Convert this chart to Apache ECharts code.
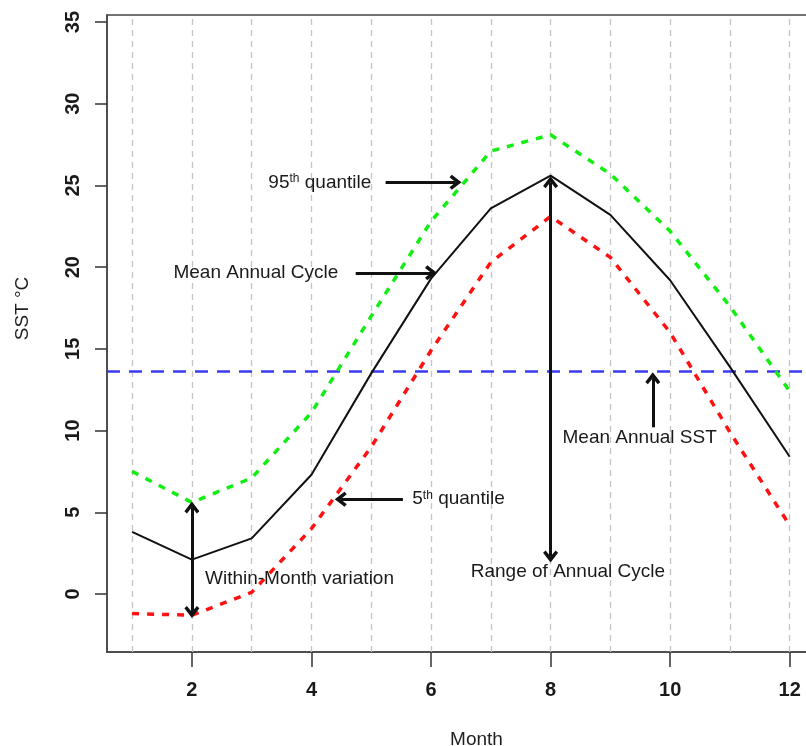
<!DOCTYPE html>
<html>
<head>
    <meta charset="utf-8">
    <title>SST annual cycle</title>
    <script src="https://cdn.jsdelivr.net/npm/echarts@6/dist/echarts.min.js"></script>
    <style type="text/css">
        html, body { margin: 0; padding: 0; background: #ffffff; }
        #chart { width: 806px; height: 746px; }
    </style>
</head>
<body>
<div id="chart"></div>
<script>
    // 数据
    var months = [1, 2, 3, 4, 5, 6, 7, 8, 9, 10, 11, 12];
    var meanCycle = [3.8, 2.1, 3.4, 7.3, 13.5, 19.3, 23.6, 25.6, 23.2, 19.2, 13.9, 8.4];
    var q95 = [7.5, 5.6, 7.1, 11.1, 17.0, 22.8, 27.1, 28.1, 25.7, 22.2, 17.6, 12.4];
    var q05 = [-1.2, -1.3, 0.1, 4.0, 9.0, 14.9, 20.3, 23.1, 20.6, 16.0, 9.9, 4.2];
    var meanAnnualSST = 13.65;
    var xTicks = [2, 4, 6, 8, 10, 12];
    var yTicks = [0, 5, 10, 15, 20, 25, 30, 35];

    // 注释（数据坐标）
    var notes = [
        {text: '95{sup|th} quantile', at: [4.14, 25.15]},
        {text: 'Mean Annual Cycle', at: [3.07, 19.65]},
        {text: '5{sup|th} quantile', at: [6.46, 5.8]},
        {text: 'Within-Month variation', at: [3.8, 0.95]},
        {text: 'Range of Annual Cycle', at: [8.29, 1.35]},
        {text: 'Mean Annual SST', at: [9.49, 9.55]}
    ];
    // [from, to, 双向]
    var arrows = [
        [[5.24, 25.2], [6.41, 25.2], false],
        [[4.74, 19.65], [6.0, 19.65], false],
        [[5.53, 5.8], [4.49, 5.8], false],
        [[2, -1.1], [2, 5.3], true],
        [[8, 2.3], [8, 25.2], true],
        [[9.71, 10.2], [9.71, 13.2], false]
    ];

    var font = '"Liberation Sans", Arial, Helvetica, sans-serif';
    var head = 'path://M5,0 L10,7 L8.3,8.6 L5,4.2 L1.7,8.6 L0,7 Z';

    function toXY(vals) {
        return months.map(function (m, i) { return [m, vals[i]]; });
    }

    var chart = echarts.init(document.getElementById('chart'), null, {renderer: 'canvas'});

    var option = {
        animation: false,
        backgroundColor: '#ffffff',
        textStyle: {fontFamily: font},
        grid: {
            left: 107, right: -10, top: 15, bottom: 94,
            show: true, borderColor: '#444', borderWidth: 1.5,
            containLabel: false,
            outerBoundsMode: 'none'
        },
        xAxis: {
            type: 'value',
            min: 0.58, max: 12.44,
            name: 'Month',
            nameLocation: 'middle',
            nameGap: 78,
            nameTextStyle: {fontSize: 19, color: '#222', fontFamily: font, padding: [0, 0, 0, 30]},
            axisLine: {show: true, onZero: false, lineStyle: {color: '#444', width: 1.5}},
            axisTick: {show: true, length: 15, customValues: xTicks, lineStyle: {color: '#333', width: 1.5}},
            axisLabel: {
                customValues: xTicks, margin: 28, fontSize: 20, fontWeight: 'bold',
                color: '#1a1a1a', fontFamily: font
            },
            splitLine: {show: false}
        },
        yAxis: {
            type: 'value',
            min: -3.55, max: 35.43,
            name: 'SST °C',
            nameLocation: 'middle',
            nameGap: 75,
            nameRotate: 90,
            nameTextStyle: {fontSize: 19, color: '#222', fontFamily: font, padding: [0, 0, 0, 50]},
            axisLine: {show: true, lineStyle: {color: '#444', width: 1.5}},
            axisTick: {show: true, length: 12, customValues: yTicks, lineStyle: {color: '#333', width: 1.5}},
            axisLabel: {
                customValues: yTicks, rotate: 90, margin: 24, fontSize: 20, fontWeight: 'bold',
                color: '#1a1a1a', fontFamily: font
            },
            splitLine: {show: false}
        },
        series: [
            {
                name: 'grid',
                type: 'line',
                data: [],
                z: 1,
                markLine: {
                    silent: true, symbol: 'none', z: 1,
                    label: {show: false},
                    lineStyle: {color: '#c4c4c4', type: [6, 5], width: 1.3},
                    data: months.map(function (m) { return {xAxis: m}; })
                }
            },
            {
                name: 'Mean Annual SST',
                type: 'line',
                data: [],
                z: 2,
                markLine: {
                    silent: true, symbol: 'none', z: 2,
                    label: {show: false},
                    lineStyle: {color: '#3a3af0', type: [13, 9], width: 2.6},
                    data: [{yAxis: meanAnnualSST}]
                }
            },
            {
                name: '95th quantile',
                type: 'line',
                data: toXY(q95),
                showSymbol: false,
                z: 3,
                lineStyle: {color: '#11ee11', width: 3.5, type: [7, 8]}
            },
            {
                name: '5th quantile',
                type: 'line',
                data: toXY(q05),
                showSymbol: false,
                z: 3,
                lineStyle: {color: '#ff1111', width: 3.5, type: [7, 8]}
            },
            {
                name: 'Mean Annual Cycle',
                type: 'line',
                data: toXY(meanCycle),
                showSymbol: false,
                z: 4,
                lineStyle: {color: '#111', width: 2}
            },
            {
                name: 'notes',
                type: 'line',
                data: [],
                z: 5,
                markLine: {
                    silent: true, z: 6,
                    symbolSize: [15, 12],
                    label: {show: false},
                    lineStyle: {color: '#111', type: 'solid', width: 3},
                    data: arrows.map(function (a) {
                        return [
                            {coord: a[0], symbol: a[2] ? head : 'none'},
                            {coord: a[1], symbol: head}
                        ];
                    })
                },
                markPoint: {
                    silent: true, z: 6,
                    symbol: 'circle', symbolSize: 0,
                    data: notes.map(function (n) {
                        return {
                            coord: n.at,
                            label: {
                                show: true, position: 'inside', formatter: n.text,
                                fontSize: 19, color: '#1a1a1a', fontFamily: font,
                                rich: {
                                    sup: {fontSize: 12, verticalAlign: 'top', padding: [0, 0, 8, 0], color: '#1a1a1a', fontFamily: font}
                                }
                            }
                        };
                    })
                }
            }
        ]
    };

    chart.setOption(option);
</script>
</body>
</html>
